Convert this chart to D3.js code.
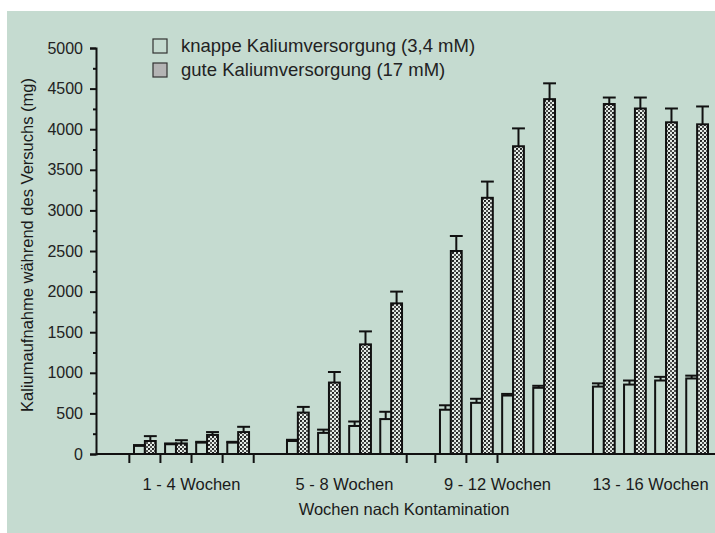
<!DOCTYPE html>
<html>
<head>
<meta charset="utf-8">
<script src="https://cdn.jsdelivr.net/npm/d3@7"></script>
<style>
  body { margin: 0; background: #fff; }
  svg { display: block; font-family: "Liberation Sans", Arial, sans-serif; }
</style>
</head>
<body>
<div></div>
<script>
var width = 715;
var height = 533;

// data (mg)
var groups = ['1 - 4 Wochen', '5 - 8 Wochen', '9 - 12 Wochen', '13 - 16 Wochen'];
var weeks = [0, 1, 2, 3];
var knapp    = [100, 120, 140, 140, 160, 260, 345, 430, 545, 630, 720, 815, 830, 855, 905, 930];
var knappErr = [110, 130, 150, 150, 175, 300, 400, 520, 600, 680, 740, 840, 870, 905, 950, 965];
var gut      = [160, 130, 235, 270, 510, 880, 1350, 1855, 2500, 3155, 3790, 4370, 4310, 4255, 4085, 4060];
var gutErr   = [220, 170, 270, 335, 580, 1010, 1510, 2000, 2685, 3355, 4010, 4565, 4390, 4390, 4255, 4280];
var yTicks = d3.range(0, 5001, 500);
var yMinor = d3.range(250, 5000, 500);
var legendLabels = ['knappe Kaliumversorgung (3,4 mM)', 'gute Kaliumversorgung (17 mM)'];
// x tick marks below the axis: [group, week boundary]
var xTickMarks = [[0, 0], [0, 1], [0, 2], [0, 3], [0, 4], [1, 4], [2, 0], [2, 1], [2, 2]];

var bg = '#c5dbd0';

var svg = d3.select('div')
    .append('svg').attr('width', width).attr('height', height);

svg.append('rect').attr('width', width).attr('height', height).attr('fill', '#fff');
svg.append('rect').attr('x', 7).attr('y', 11)
    .attr('width', width - 7).attr('height', height - 11).attr('fill', bg);

// stipple pattern for the "gute" bars
var pat = svg.append('defs').append('pattern')
    .attr('id', 'dots').attr('patternUnits', 'userSpaceOnUse')
    .attr('width', 4).attr('height', 4);
pat.append('rect').attr('width', 4).attr('height', 4).attr('fill', '#e4ebe6');
pat.append('circle').attr('cx', 1).attr('cy', 1).attr('r', 1.1).attr('fill', '#111');
pat.append('circle').attr('cx', 3).attr('cy', 3).attr('r', 1).attr('fill', '#222');

var y = d3.scaleLinear().domain([0, 5000]).range([454, 48]);

var x0 = d3.scaleBand().domain(groups).range([134, 708])
    .paddingInner(0.248).paddingOuter(0);
var x1 = d3.scaleBand().domain(weeks).range([0, x0.bandwidth()])
    .paddingInner(0.3).paddingOuter(0);
var x2 = d3.scaleBand().domain(['knapp', 'gut']).range([0, x1.bandwidth()]);

var rows = [];
groups.forEach(function (g, gi) {
    weeks.forEach(function (w) {
        var i = gi * 4 + w;
        rows.push({ group: g, week: w, key: 'knapp', value: knapp[i], err: knappErr[i] });
        rows.push({ group: g, week: w, key: 'gut', value: gut[i], err: gutErr[i] });
    });
});

function barX(d) { return x0(d.group) + x1(d.week) + x2(d.key); }

// y axis
var yAxis = svg.append('g')
    .attr('transform', 'translate(96,0)')
    .call(d3.axisLeft(y).tickValues(yTicks).tickSize(6).tickPadding(7)
        .tickFormat(d3.format('d')));
yAxis.select('.domain').attr('stroke', '#111').attr('stroke-width', 2);
yAxis.selectAll('.tick line').attr('stroke', '#111').attr('stroke-width', 2);
yAxis.selectAll('.tick text')
    .attr('font-size', 16).attr('fill', '#222')
    .attr('font-family', '"Liberation Sans", Arial, sans-serif');

var yMinorAxis = svg.append('g')
    .attr('transform', 'translate(96,0)')
    .call(d3.axisLeft(y).tickValues(yMinor).tickSize(3).tickFormat(''));
yMinorAxis.select('.domain').remove();
yMinorAxis.selectAll('.tick line').attr('stroke', '#111').attr('stroke-width', 2);

// bars
var g = svg.append('g');
g.selectAll('rect.bar')
    .data(rows)
    .enter()
    .append('rect')
    .attr('class', 'bar')
    .attr('x', barX)
    .attr('y', function (d) { return y(d.value); })
    .attr('width', x2.bandwidth())
    .attr('height', function (d) { return y(0) - y(d.value); })
    .attr('fill', function (d) { return d.key === 'gut' ? 'url(#dots)' : 'none'; })
    .attr('stroke', '#111')
    .attr('stroke-width', 2);

// error bars
var eb = g.selectAll('g.err')
    .data(rows)
    .enter()
    .append('g')
    .attr('class', 'err')
    .attr('stroke', '#111')
    .attr('stroke-width', 2);
eb.append('line')
    .attr('x1', function (d) { return barX(d) + x2.bandwidth() / 2; })
    .attr('x2', function (d) { return barX(d) + x2.bandwidth() / 2; })
    .attr('y1', function (d) { return y(d.value); })
    .attr('y2', function (d) { return y(d.err); });
eb.append('line')
    .attr('x1', function (d) { return barX(d) - 1; })
    .attr('x2', function (d) { return barX(d) + x2.bandwidth() + 1; })
    .attr('y1', function (d) { return y(d.err); })
    .attr('y2', function (d) { return y(d.err); });

// x axis baseline and ticks
svg.append('line')
    .attr('x1', 96).attr('x2', width)
    .attr('y1', y(0)).attr('y2', y(0))
    .attr('stroke', '#111').attr('stroke-width', 2);

var gap = x1.step() - x1.bandwidth();
svg.selectAll('line.xtick')
    .data(xTickMarks)
    .enter()
    .append('line')
    .attr('class', 'xtick')
    .attr('x1', function (d) { return x0(groups[d[0]]) + d[1] * x1.step() - gap / 2; })
    .attr('x2', function (d) { return x0(groups[d[0]]) + d[1] * x1.step() - gap / 2; })
    .attr('y1', y(0)).attr('y2', y(0) + 9)
    .attr('stroke', '#111').attr('stroke-width', 2);

svg.selectAll('text.group')
    .data(groups)
    .enter()
    .append('text')
    .attr('class', 'group')
    .attr('x', function (d) { return x0(d) + x0.bandwidth() / 2; })
    .attr('y', 490)
    .attr('text-anchor', 'middle')
    .attr('font-size', 16.5)
    .attr('fill', '#1a1a1a')
    .text(function (d) { return d; });

svg.append('text')
    .attr('x', 404).attr('y', 515)
    .attr('text-anchor', 'middle')
    .attr('font-size', 16.5)
    .attr('fill', '#1a1a1a')
    .text('Wochen nach Kontamination');

svg.append('text')
    .attr('transform', 'translate(33,245) rotate(-90)')
    .attr('text-anchor', 'middle')
    .attr('font-size', 16.5)
    .attr('fill', '#1a1a1a')
    .text('Kaliumaufnahme während des Versuchs (mg)');

// legend
var legend = svg.append('g')
    .selectAll('g')
    .data(legendLabels)
    .enter()
    .append('g')
    .attr('transform', function (d, i) { return 'translate(153,' + (39 + i * 24) + ')'; });
legend.append('rect')
    .attr('width', 14).attr('height', 14)
    .attr('fill', function (d, i) { return i === 0 ? 'none' : '#b4b4b4'; })
    .attr('stroke', '#333').attr('stroke-width', 1.2);
legend.append('text')
    .attr('x', 28).attr('y', 12.5)
    .attr('font-size', 18.5)
    .attr('fill', '#222')
    .text(function (d) { return d; });
</script>
</body>
</html>
